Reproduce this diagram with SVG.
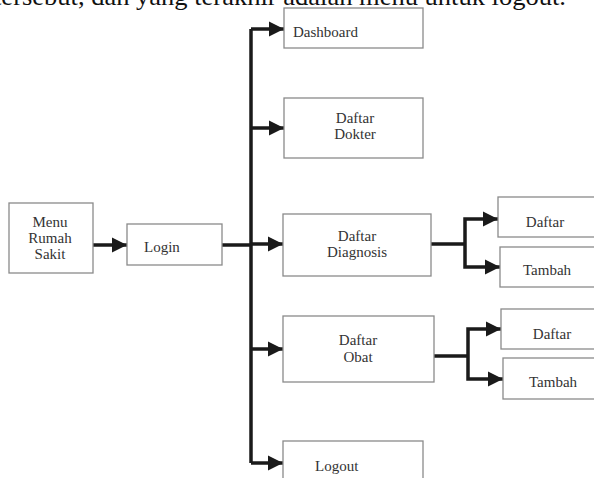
<svg xmlns="http://www.w3.org/2000/svg" width="594" height="478" viewBox="0 0 594 478">
  <defs>
    <marker id="arrow" viewBox="0 0 10 10" refX="10" refY="5" markerWidth="15" markerHeight="17" markerUnits="userSpaceOnUse" orient="auto">
      <path d="M0,0 L10,5 L0,10 Z" fill="#1a1a1a"/>
    </marker>
    <style>
      .box { fill: #ffffff; stroke: #8a8a8a; stroke-width: 1.3; }
      .lbl { font-family: "Liberation Serif", "Times New Roman", serif; font-size: 15px; fill: #333333; }
      .mid { text-anchor: middle; }
      .wire { fill: none; stroke: #1a1a1a; stroke-width: 3.5; stroke-linejoin: miter; }
      .arr { marker-end: url(#arrow); }
      .body { font-family: "Liberation Serif", "Times New Roman", serif; font-size: 26px; fill: #111111; }
    </style>
  </defs>

  <rect width="594" height="478" fill="#ffffff"/>

  <!-- running text line above the chart -->
  <text class="body" x="-6" y="5" textLength="572" lengthAdjust="spacingAndGlyphs">tersebut, dan yang terakhir adalah menu untuk logout.</text>

  <!-- connectors -->
  <g id="connectors">
    <path class="wire arr" d="M93,245 H127"/>
    <path class="wire" d="M222,245 H251"/>
    <path class="wire" d="M251,463 V29"/>
    <path class="wire arr" d="M251,29 H284"/>
    <path class="wire arr" d="M251,128 H284"/>
    <path class="wire arr" d="M251,244 H283"/>
    <path class="wire arr" d="M251,349 H283"/>
    <path class="wire arr" d="M251,463 H283"/>
    <path class="wire" d="M431,244 H465"/>
    <path class="wire arr" d="M465,244 V219 H498"/>
    <path class="wire arr" d="M465,244 V267 H500"/>
    <path class="wire" d="M434,356 H468"/>
    <path class="wire arr" d="M468,356 V329 H501"/>
    <path class="wire arr" d="M468,356 V379 H503"/>
  </g>

  <g id="menu-rumah-sakit">
    <rect class="box" x="9" y="203" width="84" height="70"/>
    <text class="lbl mid" x="50" y="227">Menu</text>
    <text class="lbl mid" x="50" y="243">Rumah</text>
    <text class="lbl mid" x="50" y="259">Sakit</text>
  </g>

  <g id="login">
    <rect class="box" x="127" y="224" width="95" height="41"/>
    <text class="lbl" x="144" y="252">Login</text>
  </g>

  <g id="dashboard">
    <rect class="box" x="284" y="8" width="139" height="40"/>
    <text class="lbl" x="293" y="37">Dashboard</text>
  </g>

  <g id="daftar-dokter">
    <rect class="box" x="284" y="98" width="139" height="60"/>
    <text class="lbl mid" x="355" y="123">Daftar</text>
    <text class="lbl mid" x="355" y="139">Dokter</text>
  </g>

  <g id="daftar-diagnosis">
    <rect class="box" x="283" y="214" width="148" height="62"/>
    <text class="lbl mid" x="357" y="241">Daftar</text>
    <text class="lbl mid" x="357" y="257">Diagnosis</text>
  </g>

  <g id="diagnosis-daftar">
    <rect class="box" x="498" y="197" width="100" height="40"/>
    <text class="lbl mid" x="545" y="227">Daftar</text>
  </g>

  <g id="diagnosis-tambah">
    <rect class="box" x="500" y="247" width="100" height="40"/>
    <text class="lbl mid" x="547" y="275">Tambah</text>
  </g>

  <g id="daftar-obat">
    <rect class="box" x="283" y="316" width="151" height="66"/>
    <text class="lbl mid" x="358" y="345">Daftar</text>
    <text class="lbl mid" x="358" y="362">Obat</text>
  </g>

  <g id="obat-daftar">
    <rect class="box" x="501" y="309" width="100" height="40"/>
    <text class="lbl mid" x="552" y="339">Daftar</text>
  </g>

  <g id="obat-tambah">
    <rect class="box" x="503" y="358" width="100" height="41"/>
    <text class="lbl mid" x="553" y="387">Tambah</text>
  </g>

  <g id="logout">
    <rect class="box" x="283" y="441" width="140" height="45"/>
    <text class="lbl" x="315" y="471">Logout</text>
  </g>
</svg>
